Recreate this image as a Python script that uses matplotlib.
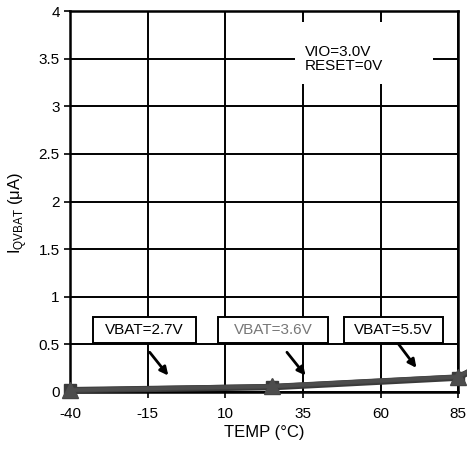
import matplotlib
matplotlib.use("Agg")
import matplotlib.pyplot as plt
from matplotlib.patches import Rectangle

plt.rcParams['font.family'] = ['Liberation Sans', 'DejaVu Sans']
plt.rcParams['axes.unicode_minus'] = False

temp_27 = [-40, 25, 85, 95]
iq_27 = [0.02, 0.05, 0.15, 0.32]
temp_36 = [-40, 25, 85, 95]
iq_36 = [0.02, 0.06, 0.16, 0.33]
temp_55 = [-40, 25, 85, 95]
iq_55 = [0.02, 0.06, 0.16, 0.34]

xticks = [-40, -15, 10, 35, 60, 85]
yticks = [0, 0.5, 1, 1.5, 2, 2.5, 3, 3.5, 4]
ytick_labels = ['0', '0.5', '1', '1.5', '2', '2.5', '3', '3.5', '4']

fig = plt.figure(figsize=(4.67, 4.61), dpi=100)
ax = fig.add_axes([0.150, 0.1497, 0.831, 0.8263])
ax.set_xlim(-40, 85)
ax.set_ylim(0, 4)
ax.set_xticks(xticks)
ax.set_yticks(yticks)
ax.set_yticklabels(ytick_labels)
ax.grid(True, color='black', linewidth=1.4)
ax.set_axisbelow(True)
for s in ax.spines.values():
    s.set_linewidth(1.8)
ax.tick_params(labelsize=11, length=4, width=1.2, direction='out')
ax.tick_params(axis='x', pad=7)

ax.plot(temp_27, iq_27, color='#3a3a3a', lw=4.5, marker='s', ms=9, clip_on=False, zorder=5)
ax.plot(temp_36, iq_36, color='#444444', lw=3.5, marker='^', ms=11, clip_on=False, zorder=6)
ax.plot(temp_55, iq_55, color='#4d4d4d', lw=2.5, marker='^', ms=10, clip_on=False, zorder=7)

ax.set_xlabel('TEMP (°C)', fontsize=12, labelpad=3)
ax.set_ylabel(r'I$_{\mathregular{QVBAT}}$ ($\mathregular{\mu}$A)', fontsize=12)
ax.yaxis.set_label_coords(-0.105, 0.47)

# white legend-like annotation
ax.add_patch(Rectangle((32.3, 3.23), 44.5, 0.66, facecolor='white', edgecolor='none', zorder=3))
ax.text(35.5, 3.5, 'VIO=3.0V\nRESET=0V', fontsize=11, va='center', ha='left', zorder=4, linespacing=1.0)

boxes = [('VBAT=2.7V', -32.6, 0.6, 'black', -14.9, -7.8, 0.44, 0.15),
         ('VBAT=3.6V', 7.7, 43.1, '#777777', 29.3, 36.4, 0.44, 0.15),
         ('VBAT=5.5V', 48.3, 80.2, 'black', 65.3, 72.1, 0.525, 0.23)]
for label, x0, x1, col, ax0, ax1, ay0, ay1 in boxes:
    ax.add_patch(Rectangle((x0, 0.514), x1 - x0, 0.273, facecolor='white', edgecolor='black',
                           linewidth=1.4, zorder=8))
    ax.text((x0 + x1) / 2, 0.65, label, fontsize=11, color=col, ha='center', va='center', zorder=9)
    ax.annotate('', xy=(ax1, ay1), xytext=(ax0, ay0),
                arrowprops=dict(arrowstyle='-|>', color='black', lw=2.0, mutation_scale=12), zorder=8)

fig.savefig('out.png', dpi=100)
